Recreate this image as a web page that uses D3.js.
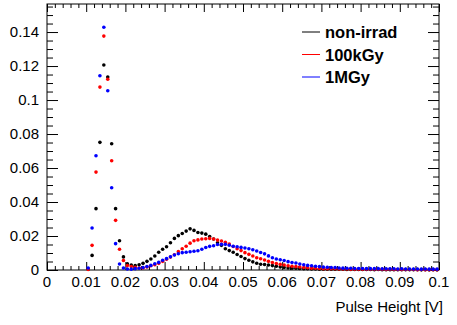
<!DOCTYPE html>
<html>
<head>
<meta charset="utf-8">
<script src="https://cdn.jsdelivr.net/npm/d3@7"></script>
<style>
  body { margin: 0; background: #fff; }
  svg text { font-family: "Liberation Sans", Arial, Helvetica, sans-serif; }
</style>
</head>
<body>
<div id="chart"></div>
<script>
// Pulse height spectra, histogram bin centers (bin width 0.001 V)
const binCenters = [
    0.0105, 0.0115, 0.0125, 0.0135, 0.0145, 0.0155, 0.0165, 0.0175, 0.0185, 0.0195,
    0.0205, 0.0215, 0.0225, 0.0235, 0.0245, 0.0255, 0.0265, 0.0275, 0.0285, 0.0295,
    0.0305, 0.0315, 0.0325, 0.0335, 0.0345, 0.0355, 0.0365, 0.0375, 0.0385, 0.0395,
    0.0405, 0.0415, 0.0425, 0.0435, 0.0445, 0.0455, 0.0465, 0.0475, 0.0485, 0.0495,
    0.0505, 0.0515, 0.0525, 0.0535, 0.0545, 0.0555, 0.0565, 0.0575, 0.0585, 0.0595,
    0.0605, 0.0615, 0.0625, 0.0635, 0.0645, 0.0655, 0.0665, 0.0675, 0.0685, 0.0695,
    0.0705, 0.0715, 0.0725, 0.0735, 0.0745, 0.0755, 0.0765, 0.0775, 0.0785, 0.0795,
    0.0805, 0.0815, 0.0825, 0.0835, 0.0845, 0.0855, 0.0865, 0.0875, 0.0885, 0.0895,
    0.0905, 0.0915, 0.0925, 0.0935, 0.0945, 0.0955, 0.0965, 0.0975, 0.0985, 0.0995
];

const nonIrrad = [
    0.0005, 0.0086, 0.0361, 0.0751, 0.1206, 0.1135, 0.0743, 0.0361, 0.0172, 0.0077,
    0.0036, 0.0029, 0.0026, 0.0031, 0.0039, 0.0051, 0.0065, 0.0082, 0.0104, 0.0122,
    0.0137, 0.0160, 0.0186, 0.0202, 0.0215, 0.0229, 0.0242, 0.0233, 0.0221, 0.0217,
    0.0211, 0.0197, 0.0182, 0.0160, 0.0145, 0.0125, 0.0114, 0.0104, 0.0091, 0.0079,
    0.0067, 0.0057, 0.0048, 0.0040, 0.0034, 0.0032, 0.0029, 0.0026, 0.0022, 0.0018,
    0.0015, 0.0012, 0.0011, 0.0010, 0.0009, 0.0008, 0.0007, 0.0006, 0.0006, 0.0005,
    0.0005, 0.0005, 0.0004, 0.0004, 0.0004, 0.0004, 0.0003, 0.0003, 0.0003, 0.0003,
    0.0003, 0.0003, 0.0003, 0.0002, 0.0003, 0.0002, 0.0002, 0.0002, 0.0002, 0.0002,
    0.0002, 0.0002, 0.0002, 0.0002, 0.0002, 0.0001, 0.0002, 0.0001, 0.0002, 0.0001
];

const kGy100 = [
    0.0003, 0.0145, 0.0576, 0.1076, 0.1376, 0.1122, 0.0643, 0.0292, 0.0122, 0.0056,
    0.0026, 0.0020, 0.0016, 0.0012, 0.0012, 0.0018, 0.0025, 0.0031, 0.0039, 0.0051,
    0.0063, 0.0076, 0.0090, 0.0108, 0.0125, 0.0140, 0.0158, 0.0172, 0.0177, 0.0182,
    0.0184, 0.0186, 0.0182, 0.0176, 0.0171, 0.0163, 0.0153, 0.0138, 0.0125, 0.0114,
    0.0102, 0.0092, 0.0082, 0.0072, 0.0066, 0.0059, 0.0051, 0.0044, 0.0038, 0.0033,
    0.0029, 0.0025, 0.0022, 0.0020, 0.0018, 0.0015, 0.0013, 0.0011, 0.0010, 0.0009,
    0.0008, 0.0008, 0.0007, 0.0007, 0.0006, 0.0006, 0.0006, 0.0005, 0.0005, 0.0005,
    0.0005, 0.0004, 0.0004, 0.0004, 0.0004, 0.0004, 0.0003, 0.0004, 0.0003, 0.0003,
    0.0003, 0.0003, 0.0003, 0.0003, 0.0002, 0.0003, 0.0002, 0.0002, 0.0002, 0.0002
];

const MGy1 = [
    0.0012, 0.0247, 0.0672, 0.1143, 0.1428, 0.1055, 0.0484, 0.0155, 0.0035, 0.0012,
    0.0006, 0.0005, 0.0008, 0.0010, 0.0014, 0.0020, 0.0027, 0.0037, 0.0045, 0.0057,
    0.0067, 0.0078, 0.0088, 0.0096, 0.0102, 0.0104, 0.0107, 0.0110, 0.0113, 0.0122,
    0.0132, 0.0139, 0.0143, 0.0150, 0.0151, 0.0151, 0.0146, 0.0140, 0.0137, 0.0133,
    0.0129, 0.0125, 0.0119, 0.0112, 0.0103, 0.0095, 0.0083, 0.0072, 0.0065, 0.0060,
    0.0056, 0.0049, 0.0044, 0.0041, 0.0035, 0.0031, 0.0027, 0.0025, 0.0022, 0.0020,
    0.0017, 0.0016, 0.0014, 0.0014, 0.0012, 0.0011, 0.0010, 0.0010, 0.0009, 0.0009,
    0.0009, 0.0008, 0.0008, 0.0008, 0.0008, 0.0007, 0.0007, 0.0007, 0.0007, 0.0006,
    0.0007, 0.0006, 0.0006, 0.0006, 0.0006, 0.0005, 0.0006, 0.0005, 0.0005, 0.0005
];

const seriesNames = ['non-irrad', '100kGy', '1MGy'];
const seriesColors = ['#000000', '#ff0000', '#0000ff'];
const seriesValues = [nonIrrad, kGy100, MGy1];

const xTicks = [0, 0.01, 0.02, 0.03, 0.04, 0.05, 0.06, 0.07, 0.08, 0.09, 0.1];
const xTickLabels = ['0', '0.01', '0.02', '0.03', '0.04', '0.05', '0.06', '0.07', '0.08', '0.09', '0.1'];
const yTicks = [0, 0.02, 0.04, 0.06, 0.08, 0.1, 0.12, 0.14];
const yTickLabels = ['0', '0.02', '0.04', '0.06', '0.08', '0.1', '0.12', '0.14'];

const W = 457, H = 325;
const margin = { top: 4, right: 18, bottom: 55, left: 47 };
const width = W - margin.left - margin.right;
const height = H - margin.top - margin.bottom;

const svg = d3.select('#chart')
    .append('svg')
    .attr('width', W)
    .attr('height', H);

const g = svg.append('g')
    .attr('transform', `translate(${margin.left},${margin.top})`);

const x = d3.scaleLinear().domain([0, 0.1]).range([0, width]);
const y = d3.scaleLinear().domain([0, 0.1565]).range([height, 0]);

// frame
g.append('rect')
    .attr('width', width)
    .attr('height', height)
    .attr('fill', 'none')
    .attr('stroke', '#000')
    .attr('stroke-width', 1);

// ticks on all four sides, ROOT style (inward)
const xMinor = d3.range(0, 0.1001, 0.002).filter(v => Math.abs(v * 100 - Math.round(v * 100)) > 1e-6);
const yMinor = d3.range(0, 0.1565, 0.005).filter(v => Math.abs(v * 50 - Math.round(v * 50)) > 1e-6);

function tickAxis(axis, scale, ticks, size) {
    return axis(scale).tickValues(ticks).tickSize(size).tickFormat('');
}

g.append('g').attr('transform', `translate(0,${height})`)
    .call(tickAxis(d3.axisTop, x, xTicks, 8));
g.append('g').attr('transform', `translate(0,${height})`)
    .call(tickAxis(d3.axisTop, x, xMinor, 4));
g.append('g')
    .call(tickAxis(d3.axisBottom, x, xTicks, 8));
g.append('g')
    .call(tickAxis(d3.axisBottom, x, xMinor, 4));
g.append('g')
    .call(tickAxis(d3.axisRight, y, yTicks, 11));
g.append('g')
    .call(tickAxis(d3.axisRight, y, yMinor, 6));
g.append('g').attr('transform', `translate(${width},0)`)
    .call(tickAxis(d3.axisLeft, y, yTicks, 11));
g.append('g').attr('transform', `translate(${width},0)`)
    .call(tickAxis(d3.axisLeft, y, yMinor, 6));

g.selectAll('.domain').remove();
g.selectAll('.tick line').attr('stroke', '#000').attr('stroke-width', 1);

// tick labels
g.selectAll('.xlab')
    .data(xTicks)
    .enter()
    .append('text')
    .attr('x', d => x(d))
    .attr('y', height + 17)
    .attr('text-anchor', 'middle')
    .style('font-size', '15px')
    .text((d, i) => xTickLabels[i]);

g.selectAll('.ylab')
    .data(yTicks)
    .enter()
    .append('text')
    .attr('x', -8)
    .attr('y', d => y(d) + 5)
    .attr('text-anchor', 'end')
    .style('font-size', '15px')
    .text((d, i) => yTickLabels[i]);

// axis title
svg.append('text')
    .attr('x', 443)
    .attr('y', 312)
    .attr('text-anchor', 'end')
    .style('font-size', '15px')
    .text('Pulse Height [V]');

// markers
seriesValues.forEach((vals, s) => {
    g.selectAll('.pt' + s)
        .data(vals)
        .enter()
        .append('circle')
        .attr('cx', (d, i) => x(binCenters[i]))
        .attr('cy', d => y(d))
        .attr('r', 1.8)
        .attr('fill', seriesColors[s]);
});

// legend
const legend = svg.append('g');
seriesNames.forEach((name, i) => {
    const ly = 32 + i * 22.5;
    legend.append('line')
        .attr('x1', 302).attr('x2', 320)
        .attr('y1', ly).attr('y2', ly)
        .attr('stroke', seriesColors[i])
        .attr('stroke-width', 1);
    legend.append('text')
        .attr('x', 325)
        .attr('y', ly + 6)
        .style('font-size', '16.5px')
        .style('font-weight', 'bold')
        .text(name);
});
</script>
</body>
</html>
